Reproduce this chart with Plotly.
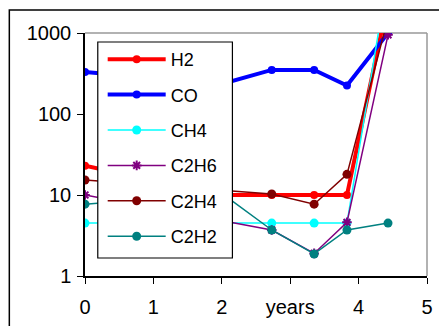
import plotly.graph_objects as go

years = [0, 2, 2.73, 3.35, 3.83, 4.43]
h2 = [23, 10, 10, 10, 10, 2500]
co = [330, 235, 350, 350, 225, 1000]
ch4 = [4.5, 4.5, 4.5, 4.5, 4.5, 5300]
c2h6 = [10, 4.8, 3.7, 1.9, 4.6, 950]
c2h4 = [15.3, 11.5, 10.3, 7.7, 18, 1530]
c2h2 = [7.7, 10.5, 3.7, 1.87, 3.7, 4.5]

tick_vals = [0, 1, 2, 3, 4, 5]
tick_text = ["0", "1", "2", "years", "4", "5"]

series = [
    ("H2", h2, "#FF0000", 4, "circle", 8),
    ("CO", co, "#0000FF", 4, "circle", 8),
    ("CH4", ch4, "#00FFFF", 1.5, "circle", 9),
    ("C2H6", c2h6, "#800080", 1.5, "asterisk-open", 8),
    ("C2H4", c2h4, "#800000", 1.5, "circle", 9),
    ("C2H2", c2h2, "#008080", 1.5, "circle", 9),
]

fig = go.Figure()
for name, vals, col, lw, sym, ms in series:
    fig.add_trace(go.Scatter(
        x=years, y=vals, name=name, mode="lines+markers",
        legendgroup=name,
        line=dict(color=col, width=lw),
        marker=dict(color=col, symbol=sym, size=ms,
                    line=dict(color=col, width=2 if sym.startswith("asterisk") else 0)),
    ))

L, R, T, B = 85, 6, 33, 50
W, H = 439, 326
pw, ph = W - L - R, H - T - B

def px(xp):
    return (xp - L) / pw

def py(yp):
    return 1 - (yp - T) / ph

fig.update_layout(
    width=W, height=H,
    margin=dict(l=L, r=R, t=T, b=B),
    paper_bgcolor="white", plot_bgcolor="white",
    font=dict(family="Liberation Sans, Arial", color="black"),
    showlegend=True,
    legend=dict(
        x=px(103), y=py(41), xanchor="left", yanchor="top",
        bgcolor="rgba(0,0,0,0)", borderwidth=0,
        font=dict(size=18), tracegroupgap=9, itemwidth=58,
    ),
    xaxis=dict(
        range=[0, 5], tickvals=tick_vals, ticktext=tick_text,
        showgrid=False, zeroline=False,
        showline=True, linecolor="black", linewidth=1.5,
        ticks="outside", ticklen=6, tickcolor="black",
        tickfont=dict(size=20), ticklabelstandoff=6,
    ),
    yaxis=dict(
        type="log", range=[0, 3],
        tickvals=[1, 10, 100, 1000], ticktext=["1", "10", "100", "1000"],
        showgrid=False, zeroline=False,
        showline=True, linecolor="black", linewidth=1.5,
        ticks="outside", ticklen=6, tickcolor="black",
        tickfont=dict(size=20), ticklabelstandoff=2,
    ),
    shapes=[
        dict(type="line", xref="paper", yref="paper", x0=0, x1=1, y0=1, y1=1,
             line=dict(color="#999999", width=1.5), layer="below"),
        dict(type="line", xref="paper", yref="paper", x0=1, x1=1, y0=0, y1=1,
             line=dict(color="#999999", width=1.5), layer="below"),
        dict(type="rect", xref="paper", yref="paper",
             x0=px(98), x1=px(235), y0=py(258), y1=py(42),
             fillcolor="white", line=dict(color="black", width=1.2), layer="above"),
        dict(type="rect", xref="paper", yref="paper",
             x0=px(8), x1=px(470), y0=py(360), y1=py(10),
             fillcolor="rgba(0,0,0,0)", line=dict(color="black", width=1.5), layer="above"),
    ],
)

fig.write_html("out.html")
